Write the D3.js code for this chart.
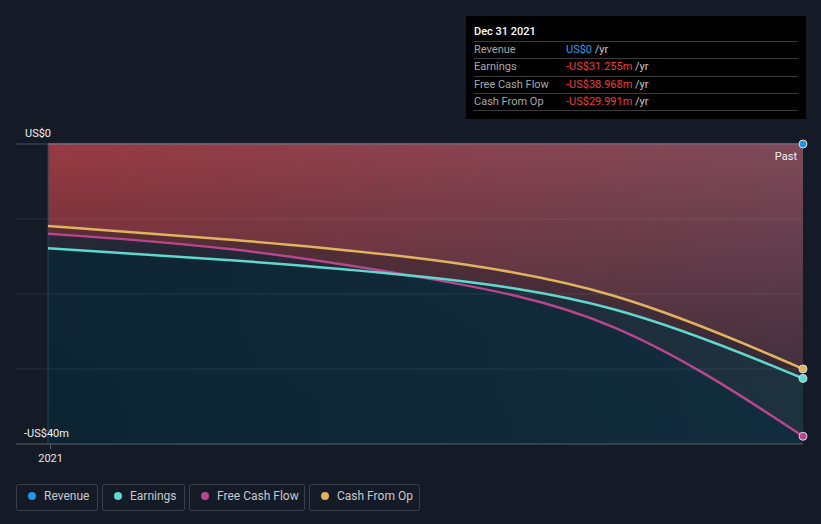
<!DOCTYPE html>
<html><head><meta charset="utf-8">
<script src="https://cdn.jsdelivr.net/npm/d3@7"></script>
<style>
html,body{margin:0;padding:0;background:#151b26;}
svg{display:block;font-family:Roboto,"Open Sans",sans-serif;}
</style></head>
<body><svg id="c" width="821" height="524"></svg>
<script>
const dates = ["2020-12-31","2021-03-31","2021-06-30","2021-09-30","2021-12-31"];
const revenue = [0, 0, 0, 0, 0];
const earnings = [-13.91, -15.44, -17.5, -20.8, -31.255];
const freeCashFlow = [-11.96, -13.7, -17.7, -22.4, -38.968];
const cashFromOp = [-10.93, -12.72, -15.01, -19.05, -29.991];
const yTicks = [0, -10, -20, -30, -40];
const yTickLabels = {"0":"US$0", "-40":"-US$40m"};
const xTicks = ["2021-01-01"];
const seriesNames = ["Revenue","Earnings","Free Cash Flow","Cash From Op"];
const seriesColors = ["#2394df","#5fd9cf","#b8468c","#e2b35f"];
const tooltipTitle = "Dec 31 2021";
const tooltipValues = ["US$0","-US$31.255m","-US$38.968m","-US$29.991m"];

const parse = d3.timeParse("%Y-%m-%d");
const D = dates.map(parse);
const svg = d3.select("#c");
const x = d3.scaleTime().domain([D[0], D[D.length-1]]).range([48, 803]);
const y = d3.scaleLinear().domain([-40, 0]).range([444, 144]);
const bottom = y(-40);

const defs = svg.append("defs");
const gh = defs.append("linearGradient").attr("id","redH").attr("x1","0").attr("x2","1").attr("y1","0").attr("y2","0");
gh.append("stop").attr("offset","0").attr("stop-color","#983a42");
gh.append("stop").attr("offset","1").attr("stop-color","#7e4a5a");
const gv = defs.append("linearGradient").attr("id","darkV").attr("gradientUnits","userSpaceOnUse")
  .attr("x1",0).attr("x2",0).attr("y1",y(0)).attr("y2",y(-40));
gv.append("stop").attr("offset","0").attr("stop-color","#151b26").attr("stop-opacity",0);
gv.append("stop").attr("offset","1").attr("stop-color","#151b26").attr("stop-opacity",0.75);
const ge = defs.append("linearGradient").attr("id","earnH").attr("x1","0").attr("x2","1").attr("y1","0").attr("y2","0");
ge.append("stop").attr("offset","0").attr("stop-color","#12222f");
ge.append("stop").attr("offset","1").attr("stop-color","#1c3341");

const curve = d3.curveBasis;
const idx = D.map((d,i)=>i);
const areaTo = (vals) => d3.area().x(i=>x(D[i])).y0(bottom).y1(i=>y(vals[i])).curve(curve);
const lineOf = (vals) => d3.line().x(i=>x(D[i])).y(i=>y(vals[i])).curve(curve);

// loss region
svg.append("path").datum(idx).attr("d", areaTo(revenue)).attr("fill","url(#redH)");
svg.append("path").datum(idx).attr("d", areaTo(revenue)).attr("fill","url(#darkV)");
// overlays
svg.append("path").datum(idx).attr("d", areaTo(cashFromOp)).attr("fill","#151b26").attr("fill-opacity",0.3);
svg.append("path").datum(idx).attr("d", areaTo(freeCashFlow)).attr("fill","#0a2230").attr("fill-opacity",0.35);
svg.append("path").datum(idx).attr("d", areaTo(earnings)).attr("fill","url(#earnH)").attr("fill-opacity",0.88);
svg.append("path").datum(idx).attr("d", areaTo(freeCashFlow)).attr("fill","#03293a").attr("fill-opacity",0.4);

// gridlines
yTicks.slice(0,-1).forEach(t=>{
  svg.append("line").attr("x1",16).attr("x2",803).attr("y1",y(t)).attr("y2",y(t))
    .attr("stroke", t===0 ? "#4a4f5a" : "#ffffff").attr("stroke-opacity", t===0?1:0.09);
});
// start vertical line
svg.append("line").attr("x1",x(D[0])).attr("x2",x(D[0])).attr("y1",y(0)).attr("y2",bottom)
  .attr("stroke","#1f4a5e").attr("stroke-width",1);
// x axis
const xa = svg.append("g").attr("transform",`translate(0,${bottom})`)
  .call(d3.axisBottom(x).tickValues(xTicks.map(parse)).tickFormat(d3.timeFormat("%Y")).tickSize(5).tickSizeOuter(0));
xa.select(".domain").remove();
xa.append("line").attr("x1",16).attr("x2",803).attr("stroke","#5a5f68");
xa.selectAll(".tick line").attr("stroke","#5a5f68");
xa.selectAll(".tick text").attr("fill","#e6e6e6").attr("font-size",11).attr("dy","0.9em").attr("font-family","Roboto,sans-serif");

// y labels
svg.append("text").attr("x",25).attr("y",y(0)-7).attr("fill","#f0f0f0").attr("font-size",11).text(yTickLabels["0"]);
svg.append("text").attr("x",24).attr("y",y(-40)-7).attr("fill","#f0f0f0").attr("font-size",11).text(yTickLabels["-40"]);

// lines
svg.append("path").datum(idx).attr("d", lineOf(revenue)).attr("fill","none").attr("stroke","#8a5f72").attr("stroke-width",1.5);
[[cashFromOp,3],[freeCashFlow,2],[earnings,1]].forEach(([vals,c])=>{
  svg.append("path").datum(idx).attr("d", lineOf(vals)).attr("fill","none").attr("stroke",seriesColors[c]).attr("stroke-width",2.5);
});
// end dots
[[revenue,0],[cashFromOp,3],[earnings,1],[freeCashFlow,2]].forEach(([vals,c])=>{
  const n = vals.length-1;
  svg.append("circle").attr("cx",x(D[n])).attr("cy",y(vals[n])).attr("r",4)
    .attr("fill",seriesColors[c]).attr("stroke","#d8d8e0").attr("stroke-width",1);
});
svg.append("text").attr("x",797).attr("y",160).attr("text-anchor","end").attr("fill","#f0f0f0").attr("font-size",11).text("Past");

// tooltip
const tt = svg.append("g");
tt.append("rect").attr("x",466).attr("y",16).attr("width",340).attr("height",103).attr("fill","#000");
tt.append("text").attr("x",474).attr("y",35).attr("fill","#fff").attr("font-size",11).attr("font-weight",500).text(tooltipTitle);
const rowY = [41,58,76,93,110];
rowY.forEach(ry=>tt.append("line").attr("x1",474).attr("x2",798).attr("y1",ry+0.5).attr("y2",ry+0.5).attr("stroke","#3a3a3a"));
seriesNames.forEach((n,i)=>{
  const by = rowY[i]+12;
  tt.append("text").attr("x",474).attr("y",by).attr("fill","#a8a8a8").attr("font-size",11).text(n);
  const t = tt.append("text").attr("x",566).attr("y",by).attr("font-size",11);
  t.append("tspan").attr("fill", i===0 ? "#2e9de6" : "#ef3b3b").text(tooltipValues[i]);
  t.append("tspan").attr("fill","#c8c8c8").text(" /yr");
});

// legend
const lg = svg.append("g");
const boxX = [16,102,189,309], boxW=[81,82,115,110];
seriesNames.forEach((n,i)=>{
  lg.append("rect").attr("x",boxX[i]+0.5).attr("y",484.5).attr("width",boxW[i]).attr("height",26).attr("rx",2)
    .attr("fill","none").attr("stroke","#3a404b");
  lg.append("circle").attr("cx",boxX[i]+16).attr("cy",496).attr("r",4).attr("fill",seriesColors[i]);
  lg.append("text").attr("x",boxX[i]+28).attr("y",500).attr("fill","#c8c8cc").attr("font-size",12).text(n);
});
</script></body></html>
